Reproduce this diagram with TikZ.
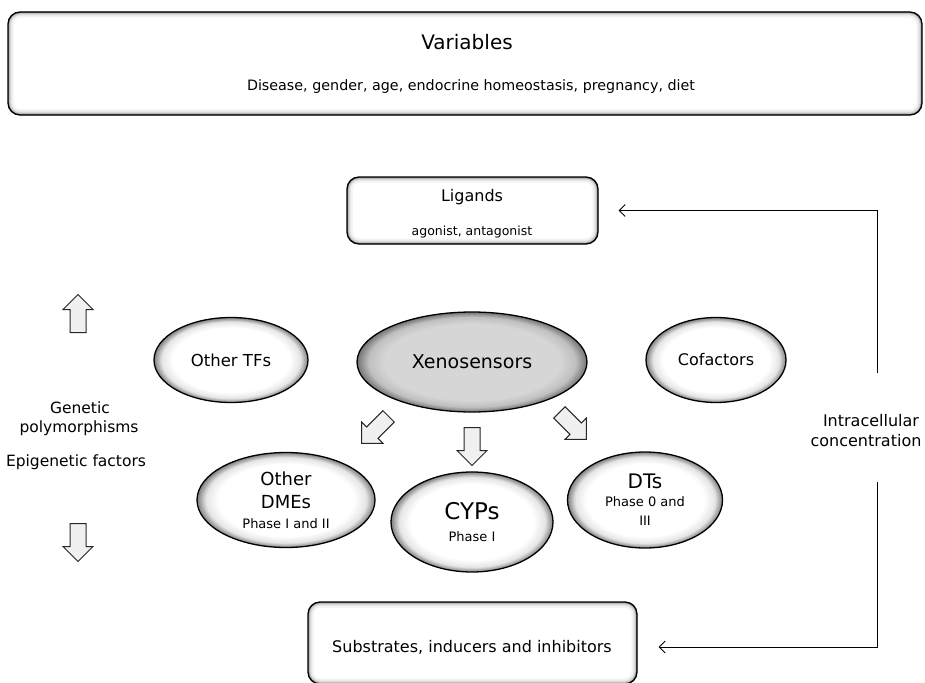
\documentclass[tikz,border=0pt]{standalone}
\usepackage{fontspec}
\setmainfont{DejaVu Sans}
\usetikzlibrary{shapes.geometric,shapes.arrows,arrows.meta,positioning}

\pgfdeclareradialshading{rim}{\pgfpoint{0bp}{0bp}}{color(0bp)=(white); color(19bp)=(white); color(22.5bp)=(black!10); color(25bp)=(black!50); color(50bp)=(black!50)}
\pgfdeclareradialshading{darkrim}{\pgfpoint{0bp}{0bp}}{color(0bp)=(black!16); color(19bp)=(black!16); color(22.5bp)=(black!25); color(25bp)=(black!55); color(50bp)=(black!55)}

\newcommand{\fs}[1]{\fontsize{#1}{#1}\selectfont}

\begin{document}
\begin{tikzpicture}[x=1pt,y=-1pt,
    every node/.style={font=\fs{15.5}},
    rbox/.style={rectangle,rounded corners=12pt,draw,line width=1.3pt,fill=white,inner sep=0pt,
      path picture={\foreach \w/\c in {11/5,7/12,4.5/22,2.5/38,1.3/55}
        \draw[black!\c,line width=\w pt,rounded corners=12pt]
          (path picture bounding box.south west) rectangle (path picture bounding box.north east);}},
    bubble/.style={ellipse,draw,line width=1.3pt,shading=rim,inner sep=0pt,align=center},
    fat/.style={single arrow,draw=black!85,line width=1pt,fill=black!6,minimum height=38pt,
      inner sep=7.5pt,single arrow head extend=7pt},
    link/.style={-{Straight Barb[length=6pt,width=12pt]},line width=0.8pt}
  ]
  \useasboundingbox (0,0) rectangle (925,682);

  % variables
  \node[rbox,minimum width=914pt,minimum height=103pt] (var) at (465,63.5) {};
  \node[font=\fs{20}] (vartitle) at (467,42) {Variables};
  \node[font=\fs{14.3}] (varlist) at (471,87) {Disease, gender, age, endocrine homeostasis, pregnancy, diet};

  % ligands and substrates
  \node[rbox,minimum width=251pt,minimum height=67pt] (lig) at (472.5,210.5) {};
  \node[font=\fs{16}] (ligtitle) at (472,197) {Ligands};
  \node[font=\fs{12.5}] (ligsub) at (472,232) {agonist, antagonist};
  \node[rbox,minimum width=329pt,minimum height=82pt] (subs) at (472.5,643) {};
  \node[font=\fs{16}] (substxt) at (472,647) {Substrates, inducers and inhibitors};

  % receptors
  \node[bubble,minimum width=154pt,minimum height=85pt,font=\fs{16.5}] (tfs) at (231,360) {Other TFs};
  \node[bubble,shading=darkrim,minimum width=230pt,minimum height=100pt,font=\fs{19}] (xeno) at (472,362) {Xenosensors};
  \node[bubble,minimum width=140pt,minimum height=85pt,font=\fs{16}] (cof) at (716,360) {Cofactors};

  % enzymes and transporters
  \node[bubble,minimum width=178pt,minimum height=95pt] (dme) at (286,500)
    {\fs{18}Other\\[8pt]\fs{18}DMEs\\[4pt]\fs{13}Phase I and II};
  \node[bubble,minimum width=162pt,minimum height=100pt] (cyp) at (472,522)
    {\fs{23}CYPs\\[6pt]\fs{13}Phase I};
  \node[bubble,minimum width=155pt,minimum height=96pt] (dts) at (645,500)
    {\fs{20}DTs\\[2pt]\fs{13}Phase 0 and\\[4pt]\fs{13}III};

  \node[fat,rotate=225] (todme) at (378,427) {};
  \node[fat,rotate=-90] (tocyp) at (472,442.5) {};
  \node[fat,rotate=-45] (todts) at (570,423) {};

  % left side
  \node[fat,rotate=90] (up) at (78,317.5) {};
  \node[fat,rotate=-90] (down) at (78,538.5) {};
  \node (gen) at (80,408) {Genetic};
  \node (poly) at (79,428) {polymorphisms};
  \node (epi) at (76,462) {Epigenetic factors};

  % right side
  \node[font=\fs{16}] (conc1) at (871,421) {Intracellular};
  \node[font=\fs{16}] (conc2) at (866,441) {concentration};
  \coordinate (ctop) at (877,373);
  \coordinate (cbot) at (877,482);
  \draw[link] (ctop) |- ([xshift=20pt]lig.east);
  \draw[link] (cbot) |- ([xshift=21pt]subs.east |- substxt);
\end{tikzpicture}
\end{document}
